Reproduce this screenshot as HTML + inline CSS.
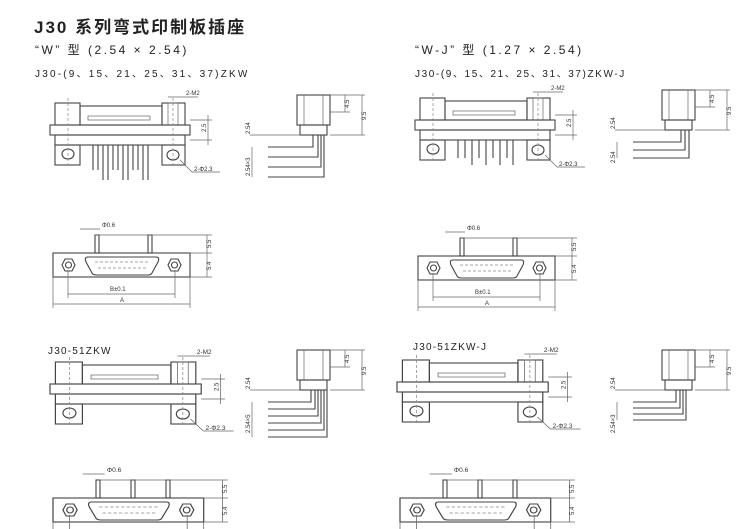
<!DOCTYPE html>
<html><head><meta charset="utf-8"><style>
html,body{margin:0;padding:0;background:#fff;}
svg{display:block}
text{font-family:"Liberation Sans","Noto Sans CJK SC",sans-serif;fill:#222}
.s{fill:none;stroke:#444;stroke-width:1.1}
.t{fill:none;stroke:#666;stroke-width:0.7}
.d{fill:none;stroke:#888;stroke-width:0.7;stroke-dasharray:3 2}
.sm{font-size:6px;fill:#333}
</style></head><body>
<svg width="750" height="529" viewBox="0 0 750 529" xmlns="http://www.w3.org/2000/svg">
<defs>
<g id="front">
 <rect class="s" x="55" y="103" width="25" height="22"/>
 <rect class="s" x="80" y="106" width="82" height="19"/>
 <rect class="t" x="88" y="116" width="62" height="4"/>
 <rect class="s" x="162" y="103" width="23" height="22"/>
 <rect class="t" x="168" y="103" width="10" height="22"/>
 <rect class="s" x="50" y="125" width="140" height="10"/>
 <rect class="s" x="55" y="135" width="130" height="10"/>
 <rect class="s" x="55" y="145" width="25" height="20"/>
 <ellipse class="s" cx="68" cy="154" rx="6" ry="5"/>
 <rect class="s" x="162" y="145" width="23" height="20"/>
 <ellipse class="s" cx="173" cy="155" rx="6" ry="5"/>
 <line class="d" x1="68" y1="98" x2="68" y2="168"/>
 <line class="d" x1="173" y1="98" x2="173" y2="168"/>
 <line class="t" x1="180" y1="160" x2="192" y2="172"/><line class="t" x1="192" y1="172" x2="220" y2="172"/>
 <text class="sm" x="194" y="171">2-Φ2.3</text>
 <line class="t" x1="168" y1="97" x2="198" y2="97"/><text class="sm" x="186" y="95">2-M2</text>
 <line class="t" x1="190" y1="120" x2="212" y2="120"/><line class="t" x1="190" y1="140" x2="212" y2="140"/>
 <line class="t" x1="208" y1="115" x2="208" y2="145"/>
 <text class="sm" transform="translate(206,132) rotate(-90)">2.5</text>
</g>
<g id="pins">
 <path class="s" d="M93 145v25M98 145v25M103 145v35M108 145v35M113 145v25M118 145v25M123 145v35M128 145v35M133 145v25M138 145v25M143 145v35M148 145v35"/>
</g>
<g id="side">
 <rect class="s" x="297" y="95" width="33" height="30"/>
 <line class="t" x1="304" y1="95" x2="304" y2="125"/><line class="t" x1="323" y1="95" x2="323" y2="125"/>
 <rect class="s" x="300" y="125" width="27" height="10"/>
 <line class="t" x1="330" y1="95" x2="365" y2="95"/><line class="t" x1="330" y1="135" x2="365" y2="135"/>
 <line class="t" x1="330" y1="112" x2="350" y2="112"/>
 <line class="t" x1="345" y1="95" x2="345" y2="112"/><line class="t" x1="362" y1="95" x2="362" y2="135"/>
 <text class="sm" transform="translate(349,108) rotate(-90)">4.5</text>
 <text class="sm" transform="translate(366,120) rotate(-90)">9.5</text>
 <line class="t" x1="250" y1="135" x2="300" y2="135"/>
 <text class="sm" transform="translate(250,134) rotate(-90)">2.54</text>
</g>
<g id="bottom">
 <rect class="s" x="53" y="253" width="137" height="24"/>
 <polygon class="s" points="62,265 65,259 72,259 75,265 72,271 65,271"/><circle class="s" cx="68.5" cy="265" r="3"/>
 <polygon class="s" points="168,265 171,259 178,259 181,265 178,271 171,271"/><circle class="s" cx="174.5" cy="265" r="3"/>
 <path class="s" d="M88 257 Q84 257 86 262 L92 273 Q93 275 97 275 L148 275 Q151 275 152 273 L158 262 Q160 257 156 257 Z"/>
 <line class="d" x1="95" y1="262" x2="150" y2="262"/><line class="d" x1="98" y1="268" x2="147" y2="268"/>
 <line class="t" x1="68" y1="270" x2="68" y2="298"/><line class="t" x1="175" y1="270" x2="175" y2="298"/>
 <line class="t" x1="68" y1="294" x2="175" y2="294"/><text class="sm" x="110" y="291">B±0.1</text>
 <line class="t" x1="53" y1="277" x2="53" y2="308"/><line class="t" x1="190" y1="277" x2="190" y2="308"/>
 <line class="t" x1="53" y1="304" x2="190" y2="304"/><text class="sm" x="120" y="302">A</text>
 <line class="t" x1="95" y1="235" x2="212" y2="235"/><line class="t" x1="190" y1="253" x2="212" y2="253"/><line class="t" x1="190" y1="277" x2="212" y2="277"/>
 <line class="t" x1="207" y1="235" x2="207" y2="277"/>
 <text class="sm" transform="translate(211,248) rotate(-90)">5.5</text>
 <text class="sm" transform="translate(211,270) rotate(-90)">5.4</text>
 <line class="t" x1="80" y1="229" x2="100" y2="229"/><text class="sm" x="102" y="227">Φ0.6</text>
</g>
</defs>

<text x="34" y="33" font-size="17" font-weight="bold" letter-spacing="2">J30 系列弯式印制板插座</text>
<text x="35" y="54" font-size="12" letter-spacing="2.5">“W” 型 (2.54 × 2.54)</text>
<text x="35" y="77" font-size="10" letter-spacing="2.2">J30-(9、15、21、25、31、37)ZKW</text>
<text x="415" y="54" font-size="12" letter-spacing="2.5">“W-J” 型 (1.27 × 2.54)</text>
<text x="415" y="77" font-size="10" letter-spacing="1.6">J30-(9、15、21、25、31、37)ZKW-J</text>
<text x="48" y="354" font-size="10" letter-spacing="1.2">J30-51ZKW</text>
<text x="413" y="350" font-size="10" letter-spacing="1.2">J30-51ZKW-J</text>

<use href="#front"/><use href="#pins"/><use href="#side"/>
<path class="s" d="M268 147h45v-12M268 157h50v-22M268 167h53v-32M268 177h56v-42"/>
<line class="t" x1="252" y1="147" x2="252" y2="177"/><text class="sm" transform="translate(250,176) rotate(-90)">2.54×3</text>
<rect class="s" x="95" y="235" width="4" height="18"/><rect class="s" x="148" y="235" width="4" height="18"/>
<use href="#bottom"/>

<g transform="translate(365,-5)">
<use href="#front"/>
<path class="s" d="M93 145v18M100 145v18M107 145v25M114 145v18M121 145v25M128 145v18M135 145v25M142 145v18M148 145v25"/>
<use href="#side"/>
<path class="s" d="M268 147h48v-12M268 155h52v-20M268 163h56v-28"/>
<line class="t" x1="252" y1="147" x2="252" y2="163"/><text class="sm" transform="translate(250,168) rotate(-90)">2.54</text>
<g transform="translate(0,8)"><rect class="s" x="95" y="235" width="4" height="18"/><rect class="s" x="148" y="235" width="4" height="18"/><use href="#bottom"/></g>
</g>

<g transform="translate(50,362) scale(1.08,1) translate(-50,-103)">
<use href="#front"/>
</g>
<g transform="translate(0,255)"><use href="#side"/>
<path class="s" d="M268 147h43v-12M268 154h47v-19M268 161h50v-26M268 168h53v-33M268 175h56v-40M268 182h59v-47"/>
<line class="t" x1="252" y1="147" x2="252" y2="182"/><text class="sm" transform="translate(250,178) rotate(-90)">2.54×5</text>
</g>
<g transform="translate(0,245)"><rect class="s" x="96" y="235" width="4" height="18"/><rect class="s" x="131" y="235" width="4" height="18"/><rect class="s" x="166" y="235" width="4" height="18"/>
<g transform="translate(53,0) scale(1.1,1) translate(-53,0)"><use href="#bottom"/></g></g>

<g transform="translate(397,360) scale(1.08,1) translate(-50,-103)">
<use href="#front"/>
</g>
<g transform="translate(365,255)"><use href="#side"/>
<path class="s" d="M268 147h43v-12M268 153h47v-18M268 159h50v-24M268 165h53v-30"/>
<line class="t" x1="252" y1="147" x2="252" y2="165"/><text class="sm" transform="translate(250,178) rotate(-90)">2.54×3</text>
</g>
<g transform="translate(347,245)"><rect class="s" x="96" y="235" width="4" height="18"/><rect class="s" x="131" y="235" width="4" height="18"/><rect class="s" x="166" y="235" width="4" height="18"/>
<g transform="translate(53,0) scale(1.1,1) translate(-53,0)"><use href="#bottom"/></g></g>
</svg>
</body></html>
